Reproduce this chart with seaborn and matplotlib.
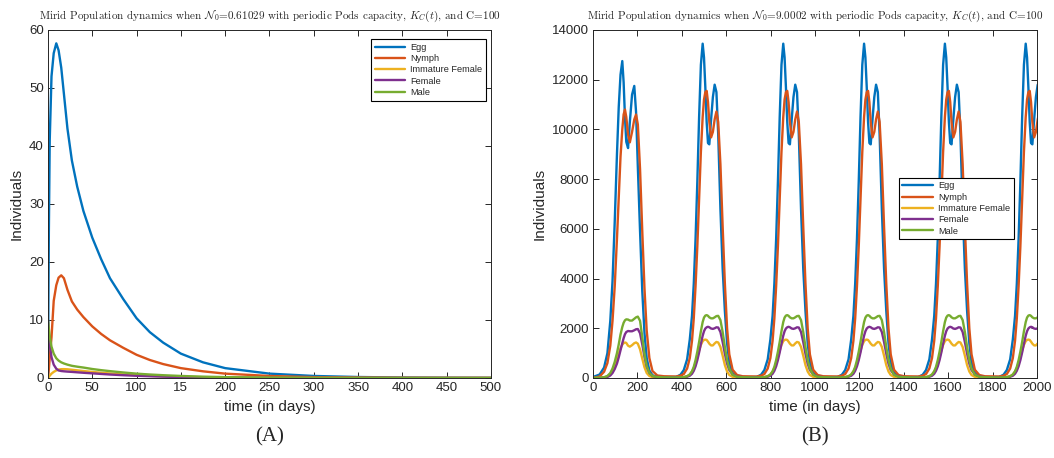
import matplotlib.pyplot as plt
from matplotlib.lines import Line2D
import seaborn as sns
import pandas as pd

sns.set_theme(style="ticks")
plt.rcParams["font.family"] = ["Liberation Sans", "DejaVu Sans"]
plt.rcParams["mathtext.fontset"] = "cm"

stages = ["Egg", "Nymph", "Immature Female", "Female", "Male"]
colors = {
    "Egg": "#0072BD",
    "Nymph": "#D95319",
    "Immature Female": "#EDB120",
    "Female": "#7E2F8E",
    "Male": "#77AC30",
}

# ---- panel (A): N0 = 0.61029, population dies out ----
a_days = [0, 1, 2, 4, 6.5, 9.4, 12, 15, 18, 22, 27, 33, 40, 50, 60, 70, 85,
          100, 115, 130, 150, 175, 200, 250, 300, 350, 400, 450, 500]
a_egg = [0, 25, 41, 52, 56, 57.7, 56.5, 53.5, 49, 43, 37.5, 33, 28.8, 24.2,
         20.5, 17.2, 13.6, 10.3, 7.9, 6.1, 4.2, 2.7, 1.7, 0.75, 0.35, 0.17,
         0.08, 0.04, 0.02]
a_nymph = [0, 1.5, 3.5, 7, 13.3, 16, 17.3, 17.7, 17.2, 15.2, 13.2, 11.8, 10.5,
           8.9, 7.6, 6.5, 5.2, 4.0, 3.1, 2.4, 1.7, 1.15, 0.75, 0.35, 0.15,
           0.07, 0.03, 0.015, 0.01]
a_imm = [0, 0.2, 0.4, 0.75, 1.05, 1.3, 1.45, 1.52, 1.53, 1.5, 1.42, 1.32, 1.2,
         1.05, 0.9, 0.78, 0.62, 0.48, 0.37, 0.29, 0.2, 0.13, 0.08, 0.03, 0.012,
         0.005, 0, 0, 0]
a_female = [10, 7.5, 5.8, 3.6, 2.3, 1.6, 1.3, 1.2, 1.15, 1.1, 1.05, 0.98, 0.9,
            0.8, 0.7, 0.6, 0.48, 0.38, 0.3, 0.23, 0.16, 0.1, 0.06, 0.025, 0.01,
            0, 0, 0, 0]
a_male = [10, 8.5, 7.2, 5.4, 4.2, 3.4, 3.0, 2.7, 2.5, 2.3, 2.1, 1.95, 1.8,
          1.55, 1.35, 1.18, 0.95, 0.75, 0.6, 0.48, 0.35, 0.23, 0.15, 0.06,
          0.025, 0.01, 0, 0, 0]

# ---- panel (B): N0 = 9.0002, yearly outbreaks ----
# first season, absolute days
b1_days = [0, 30, 50, 65, 78, 88, 98, 108, 116, 124, 132, 138, 144, 150, 158,
           166, 176, 186, 194, 202, 212, 222, 232, 242, 254, 268, 290, 320]
b1_egg = [40, 140, 420, 1000, 2300, 3900, 6300, 9000, 10900, 12200, 12750,
          11900, 10500, 9500, 9250, 10300, 11400, 11750, 10700, 8500, 5900,
          3500, 1800, 800, 300, 110, 40, 30]
b1_nymph = [0, 60, 250, 600, 1300, 2300, 3700, 5600, 7300, 8900, 10000, 10600,
            10800, 10500, 9800, 9480, 9900, 10400, 10600, 10200, 8400, 5900,
            3600, 1900, 800, 280, 100, 70]
b1_imm = [0, 10, 30, 70, 160, 300, 500, 750, 980, 1200, 1340, 1400, 1430, 1410,
          1300, 1260, 1320, 1400, 1430, 1380, 1150, 780, 430, 200, 80, 30, 15, 15]
b1_female = [0, 5, 15, 40, 100, 200, 360, 580, 830, 1120, 1400, 1600, 1760,
             1850, 1890, 1880, 1880, 1920, 1960, 1970, 1800, 1350, 850, 450,
             200, 80, 45, 30]
b1_male = [5, 10, 30, 80, 200, 380, 650, 1000, 1350, 1750, 2050, 2220, 2320,
           2360, 2350, 2310, 2310, 2380, 2440, 2470, 2300, 1650, 950, 480, 200,
           80, 40, 25]

# later seasons: days relative to each season's first egg peak
b_peaks = [494, 857, 1221, 1585, 1949]
b_rel = [-120, -100, -85, -70, -58, -48, -40, -32, -24, -16, -8, 0, 6, 12, 18,
         24, 30, 38, 46, 54, 62, 70, 80, 90, 100, 110, 120, 135, 155, 180]
b_egg = [40, 130, 320, 750, 1550, 2500, 3800, 5600, 7900, 10500, 12600, 13450,
         12900, 11700, 10300, 9450, 9400, 10400, 11300, 11800, 11500, 9800,
         6800, 4400, 2700, 1400, 620, 200, 60, 30]
b_nymph = [60, 90, 160, 380, 800, 1500, 2400, 3700, 5300, 7200, 9100, 10500,
           11200, 11500, 11550, 11100, 10300, 9680, 9900, 10400, 10720, 10300,
           8600, 6100, 3800, 2000, 950, 330, 120, 70]
b_imm = [15, 20, 35, 70, 140, 260, 400, 600, 850, 1100, 1330, 1480, 1530, 1545,
         1530, 1460, 1380, 1310, 1310, 1390, 1450, 1430, 1250, 900, 520, 260,
         120, 45, 20, 15]
b_female = [25, 25, 30, 50, 90, 170, 290, 470, 720, 1030, 1380, 1700, 1880,
            1990, 2040, 2060, 2040, 1990, 1975, 2000, 2040, 2030, 1850, 1450,
            980, 580, 320, 140, 60, 35]
b_male = [20, 25, 35, 70, 140, 270, 450, 720, 1060, 1450, 1880, 2250, 2430,
          2510, 2530, 2500, 2440, 2400, 2400, 2440, 2490, 2500, 2330, 1850,
          1250, 720, 370, 130, 50, 30]


def panel_a():
    vals = [a_egg, a_nymph, a_imm, a_female, a_male]
    frames = [pd.DataFrame({"t": a_days, "n": v, "stage": s})
              for s, v in zip(stages, vals)]
    return pd.concat(frames, ignore_index=True)


def panel_b():
    first = [b1_egg, b1_nymph, b1_imm, b1_female, b1_male]
    season = [b_egg, b_nymph, b_imm, b_female, b_male]
    frames = []
    for s, v1, v in zip(stages, first, season):
        t = list(b1_days)
        n = list(v1)
        for p in b_peaks:
            t += [p + d for d in b_rel]
            n += v
        frames.append(pd.DataFrame({"t": t, "n": n, "stage": s}))
    return pd.concat(frames, ignore_index=True)


def style_axes(ax):
    for sp in ax.spines.values():
        sp.set_visible(True)
        sp.set_color("#262626")
        sp.set_linewidth(0.7)
    ax.tick_params(direction="in", length=4, width=0.7, top=True, right=True,
                   labelsize=9.5, colors="#262626", pad=3)
    ax.set_xlabel("time (in days)", fontsize=11, color="#262626")
    ax.set_ylabel("Individuals", fontsize=11, color="#262626")


def add_legend(ax, **kw):
    handles = [Line2D([], [], color=colors[s], lw=1.7) for s in stages]
    leg = ax.legend(handles, stages, fontsize=6.6, fancybox=False,
                    framealpha=1, edgecolor="black", handlelength=3.3,
                    handletextpad=0.6, labelspacing=0.25, borderpad=0.4,
                    borderaxespad=0, **kw)
    leg.get_frame().set_linewidth(0.8)


fig = plt.figure(figsize=(10.54, 4.58), dpi=100)
ax1 = fig.add_axes([0.0455, 0.1747, 0.4203, 0.7598])
ax2 = fig.add_axes([0.5626, 0.1747, 0.4213, 0.7598])

sns.lineplot(data=panel_a(), x="t", y="n", hue="stage", hue_order=stages,
             palette=colors, estimator=None, sort=False, linewidth=1.7,
             legend=False, ax=ax1)
ax1.set_xlim(0, 500)
ax1.set_ylim(0, 60)
ax1.set_xticks(range(0, 501, 50))
ax1.set_xticklabels(["0", "50", "100", "15", "200", "250", "300", "350",
                     "400", "450", "500"])
ax1.set_yticks(range(0, 61, 10))
style_axes(ax1)
ax1.set_title(r"Mirid Population dynamics when $\mathcal{N}_0$=0.61029 with "
              r"periodic Pods capacity, $K_C(t)$, and C=100",
              fontfamily="cmr10", fontsize=8.0, pad=8)
add_legend(ax1, loc="upper right", bbox_to_anchor=(0.989, 0.974))

sns.lineplot(data=panel_b(), x="t", y="n", hue="stage", hue_order=stages,
             palette=colors, estimator=None, sort=False, linewidth=1.7,
             legend=False, ax=ax2)
ax2.set_xlim(0, 2000)
ax2.set_ylim(0, 14000)
ax2.set_xticks(range(0, 2001, 200))
ax2.set_yticks(range(0, 14001, 2000))
style_axes(ax2)
ax2.set_title(r"Mirid Population dynamics when $\mathcal{N}_0$=9.0002 with "
              r"periodic Pods capacity, $K_C(t)$, and C=100",
              fontfamily="cmr10", fontsize=8.0, pad=8)
add_legend(ax2, loc="center", bbox_to_anchor=(0.818, 0.487))

fig.text(0.2557, 0.046, "(A)", ha="center", va="center",
         fontfamily="Liberation Serif", fontsize=15)
fig.text(0.7733, 0.046, "(B)", ha="center", va="center",
         fontfamily="Liberation Serif", fontsize=15)

fig.savefig("out.png", dpi=100)
